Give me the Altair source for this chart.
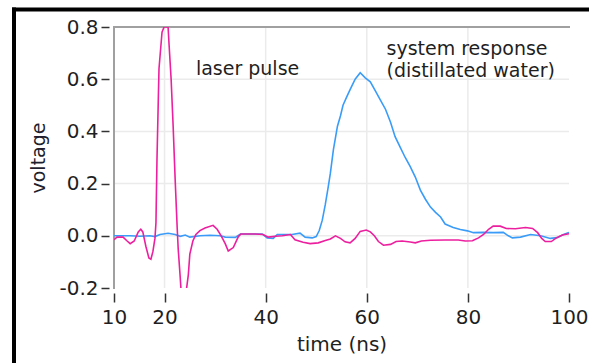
import altair as alt
import pandas as pd

# laser pulse (magenta)
laser_t = [10.0, 10.6, 11.8, 12.6, 13.2, 14.0, 14.8, 15.3, 15.7, 16.3, 16.9, 17.3, 17.7, 18.1, 18.3,
           18.5, 18.9, 19.5, 19.9, 20.7, 20.9, 21.3, 21.7, 22.1, 22.5, 22.7, 23.1, 23.3, 24.1, 24.7,
           25.0, 25.6, 26.2, 27.0, 28.0, 29.6, 30.4, 31.2, 32.0, 32.6, 33.6, 34.6, 35.1, 37.9, 39.5,
           40.5, 41.9, 43.3, 44.9, 45.8, 47.4, 48.8, 50.4, 51.8, 52.8, 53.8, 54.8, 55.7, 56.7, 57.7,
           58.7, 59.9, 60.7, 61.5, 62.3, 63.3, 64.7, 65.8, 67.0, 68.6, 69.6, 70.8, 72.6, 75.5, 78.1,
           79.5, 80.9, 82.1, 83.1, 84.1, 85.0, 86.4, 87.6, 89.4, 91.4, 92.8, 93.8, 94.6, 95.3, 96.5,
           97.5, 98.7, 100.0]
laser_v = [-0.015, -0.005, -0.005, -0.02, -0.03, -0.02, 0.015, 0.025, 0.015, -0.04, -0.085, -0.09, -0.06, -0.01, 0.05,
           0.29, 0.64, 0.78, 0.80, 0.80, 0.73, 0.60, 0.42, 0.215, 0.03, -0.05, -0.16, -0.22, -0.24, -0.15,
           -0.07, -0.02, 0.005, 0.02, 0.03, 0.04, 0.025, 0.0, -0.03, -0.058, -0.045, -0.003, 0.007, 0.007, 0.005,
           -0.005, -0.002, 0.0, 0.005, -0.015, -0.025, -0.03, -0.027, -0.018, -0.012, 0.0, -0.01, -0.023, -0.027, -0.01,
           0.017, 0.022, 0.015, 0.0, -0.022, -0.036, -0.033, -0.022, -0.02, -0.024, -0.027, -0.02, -0.017, -0.016, -0.016,
           -0.02, -0.019, -0.008, 0.005, 0.025, 0.037, 0.037, 0.028, 0.027, 0.032, 0.028, 0.012, -0.01, -0.022, -0.022,
           -0.008, 0.003, 0.008]

# system response, distilled water (blue)
resp_t = [10.0, 11.2, 13.2, 15.1, 17.1, 18.1, 19.1, 20.7, 22.1, 23.1, 24.1, 25.0, 27.0, 29.0, 31.0,
          32.0, 34.0, 35.0, 39.3, 40.3, 41.5, 42.3, 45.2, 46.8, 47.8, 49.2, 50.0, 50.6, 51.2, 51.8,
          52.4, 52.8, 53.4, 54.2, 54.8, 55.3, 56.1, 56.7, 57.7, 58.7, 59.7, 60.7, 61.7, 62.7, 63.7,
          64.7, 65.6, 66.6, 67.6, 68.6, 69.6, 70.6, 71.6, 72.6, 73.6, 74.6, 75.5, 77.1, 78.5, 79.9,
          81.1, 83.1, 85.0, 87.0, 88.0, 88.8, 90.4, 92.4, 94.4, 96.3, 97.7, 98.9, 100.0]
resp_v = [0.0, 0.0, 0.0, -0.002, 0.0, -0.003, 0.005, 0.01, 0.005, -0.002, 0.003, -0.005, 0.0, 0.002, 0.0,
          -0.005, -0.006, 0.007, 0.007, -0.008, -0.01, 0.005, 0.005, 0.01, -0.005, -0.008, -0.003, 0.02, 0.06, 0.12,
          0.19, 0.24, 0.33, 0.42, 0.46, 0.50, 0.535, 0.56, 0.60, 0.625, 0.605, 0.59, 0.555, 0.52, 0.485,
          0.435, 0.38, 0.34, 0.30, 0.265, 0.225, 0.175, 0.14, 0.11, 0.09, 0.072, 0.045, 0.032, 0.024, 0.019,
          0.012, 0.013, 0.012, 0.013, 0.0, -0.008, -0.005, 0.005, 0.0, -0.01, -0.007, 0.005, 0.013]

x_ticks = [10, 20, 40, 60, 80, 100]
y_ticks = [-0.2, 0.0, 0.2, 0.4, 0.6, 0.8]
x_grid = [20, 40, 60, 80]
y_grid = [0.0, 0.2, 0.4, 0.6]

notes_text = ["laser pulse", "system response", "(distillated water)"]
notes_t = [26.2, 63.9, 63.9]
notes_v = [0.616, 0.693, 0.608]

FONT = "DejaVu Sans"
PINK = "#ec1f9f"
BLUE = "#3a9cf8"
TXT = "#1f1f1f"

W, H = 455, 261
xs = alt.Scale(domain=[10, 100], nice=False, zero=False)
ys = alt.Scale(domain=[-0.2, 0.8], nice=False, zero=False)

laser = pd.DataFrame({"t": laser_t, "v": laser_v})
resp = pd.DataFrame({"t": resp_t, "v": resp_v})

grid_x = alt.Chart(pd.DataFrame({"t": x_grid})).mark_rule(color="#ebebeb", strokeWidth=1.5).encode(
    x=alt.X("t:Q", scale=xs))
grid_y = alt.Chart(pd.DataFrame({"v": y_grid})).mark_rule(color="#ebebeb", strokeWidth=1.5).encode(
    y=alt.Y("v:Q", scale=ys))

frame_top = alt.Chart(pd.DataFrame({"v": [0.8]})).mark_rule(color="#a0a0a0", strokeWidth=2).encode(
    y=alt.Y("v:Q", scale=ys), x=alt.value(-1), x2=alt.value(W + 1))
frame_left = alt.Chart(pd.DataFrame({"t": [10]})).mark_rule(color="#a0a0a0", strokeWidth=2).encode(
    x=alt.X("t:Q", scale=xs), y=alt.value(-1), y2=alt.value(H + 1))

base_axis_x = alt.Axis(values=x_ticks, grid=False, domain=False, offset=5, tickSize=9,
                       tickColor="#333333", tickWidth=1.5, labelFont=FONT, labelFontSize=20,
                       labelColor=TXT, labelPadding=5, labelFlush=False, labelOverlap=False,
                       title="time (ns)", titleFont=FONT,
                       titleFontSize=20, titleFontWeight="normal", titleColor=TXT,
                       titlePadding=7, format="d")
base_axis_y = alt.Axis(values=y_ticks, grid=False, domain=False, offset=5, tickSize=8,
                       tickColor="#333333", tickWidth=1.5, labelFont=FONT, labelFontSize=20,
                       labelColor=TXT, labelPadding=3, labelFlush=False, labelOverlap=False,
                       labelExpr="replace(format(datum.value, '.1f'), '\u2212', '-')",
                       title="voltage", titleFont=FONT,
                       titleFontSize=19, titleFontWeight="normal", titleColor="#1f1f2f",
                       titlePadding=10)

resp_line = alt.Chart(resp).mark_line(color=BLUE, strokeWidth=1.6, clip=True).encode(
    x=alt.X("t:Q", scale=xs, axis=base_axis_x),
    y=alt.Y("v:Q", scale=ys, axis=base_axis_y))
laser_line = alt.Chart(laser).mark_line(color=PINK, strokeWidth=1.6, clip=True).encode(
    x=alt.X("t:Q", scale=xs), y=alt.Y("v:Q", scale=ys))

notes = alt.Chart(pd.DataFrame({"t": notes_t, "v": notes_v, "s": notes_text})).mark_text(
    align="left", baseline="alphabetic", font=FONT, fontSize=19, color=TXT).encode(
    x=alt.X("t:Q", scale=xs), y=alt.Y("v:Q", scale=ys), text="s:N")

# black screenshot border on top and left
border_top = alt.Chart(pd.DataFrame({"k": [0]})).mark_rule(color="#000000", strokeWidth=4).encode(
    x=alt.value(-102), x2=alt.value(W + 40), y=alt.value(-17.5))
border_left = alt.Chart(pd.DataFrame({"k": [0]})).mark_rule(color="#000000", strokeWidth=4).encode(
    x=alt.value(-100), y=alt.value(-19.5), y2=alt.value(H + 90))

chart = alt.layer(grid_x, grid_y, frame_top, frame_left, resp_line, laser_line, notes,
                  border_top, border_left).properties(
    width=W, height=H,
    autosize=alt.AutoSizeParams(type="none"),
    padding={"left": 114, "top": 27, "right": 20, "bottom": 75},
    background="white",
).configure_view(stroke=None)

chart.save("out.html", embed_options={"renderer": "svg", "actions": False})
